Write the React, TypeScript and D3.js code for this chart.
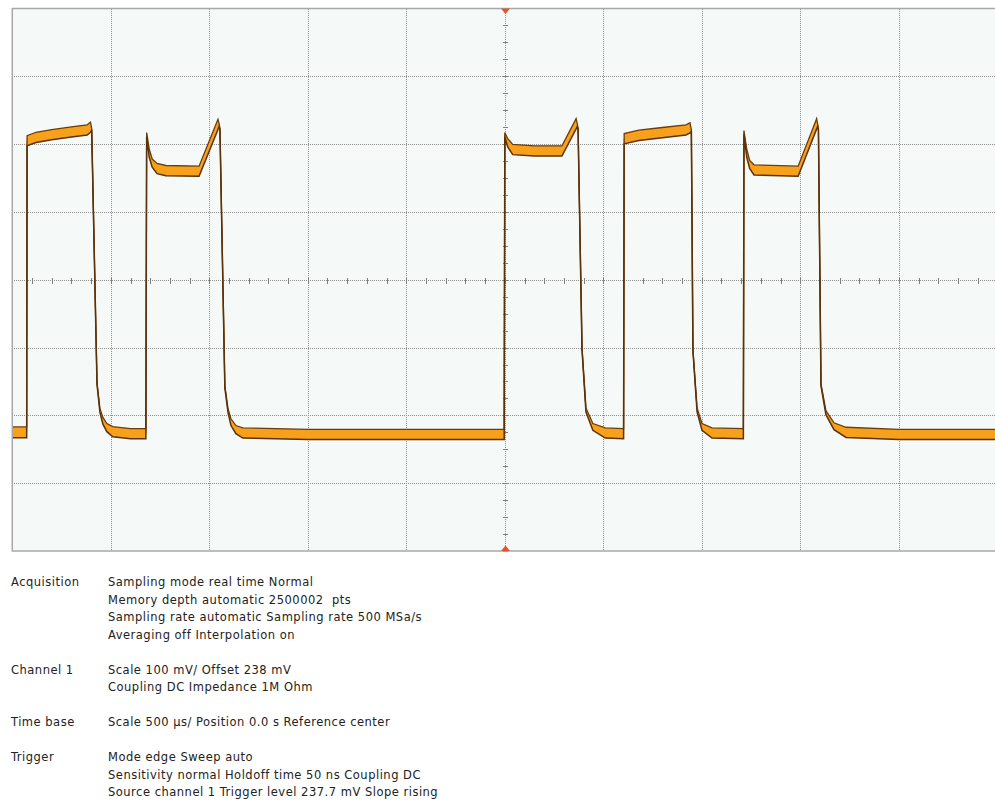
import React from "react";
import * as d3 from "d3";

// Trace: time (µs), voltage (mV), noise band half-width (mV)
const traceTime = [
  -2500, -2427, -2425, -2380, -2300, -2200, -2120, -2103,
  -2097, -2070, -2055, -2040, -2020, -1990, -1900, -1822,
  -1818, -1805, -1790, -1765, -1720, -1552, -1456, -1450,
  -1446, -1421, -1405, -1390, -1365, -1330, -1000, -500, -3,
  0, 15, 40, 150, 290, 362, 368,
  372, 392, 412, 447, 510, 603,
  606, 680, 800, 920, 940,
  947, 955, 976, 1001, 1052, 1211,
  1214, 1228, 1243, 1265, 1489, 1583, 1588,
  1592, 1605, 1630, 1671, 1732, 2000, 2500,
];
const traceMV = [
  13, 13, 443, 448, 452, 456, 459, 463,
  460, 85, 45, 30, 20, 14, 11, 11,
  452, 425, 410, 402, 399, 398, 467, 466,
  460, 80, 45, 28, 17, 12, 10, 10, 10,
  452, 440, 430, 428, 428, 468, 466,
  460, 136, 46, 21, 12, 11,
  446, 451, 455, 459, 462,
  458, 134, 46, 21, 12, 11,
  455, 425, 408, 400, 398, 468, 466,
  460, 83, 42, 22, 13, 10, 10,
];
const traceBand = [
  8, 8, 7.5, 7.5, 7.5, 7.5, 7.5, 7.5,
  1, 1.5, 3, 5, 6, 7.5, 7.5, 7.5,
  3, 6, 6, 7.5, 7.5, 7.5, 7.5, 2,
  1, 1.5, 3, 5, 6, 7.5, 7.5, 7.5, 7.5,
  3, 6, 7.5, 7.5, 7.5, 7.5, 2,
  1, 1, 3, 5, 7.5, 7.5,
  7.5, 7.5, 7.5, 7.5, 7.5,
  1, 1, 3, 5, 7.5, 7.5,
  3, 6, 6, 7.5, 7.5, 7.5, 2,
  1, 1.5, 3, 5, 7.5, 7.5, 7.5,
];

const timeDomain = [-2500, 2500];
const voltDomain = [-162, 638];
const timeGrid = [-2000, -1500, -1000, -500, 0, 500, 1000, 1500, 2000];
const voltGrid = [-62, 38, 138, 238, 338, 438, 538];

const infoLabels = ["Acquisition", "", "", "", "", "Channel 1", "", "", "Time base", "", "Trigger", "", ""];
const infoValues = [
  "Sampling mode real time Normal",
  "Memory depth automatic 2500002  pts",
  "Sampling rate automatic Sampling rate 500 MSa/s",
  "Averaging off Interpolation on",
  "",
  "Scale 100 mV/ Offset 238 mV",
  "Coupling DC Impedance 1M Ohm",
  "",
  "Scale 500 \u00b5s/ Position 0.0 s Reference center",
  "",
  "Mode edge Sweep auto",
  "Sensitivity normal Holdoff time 50 ns Coupling DC",
  "Source channel 1 Trigger level 237.7 mV Slope rising",
];

type P = { t: number; v: number; w: number };

export default function App() {
  const left = 12.3, right = 997.3, top = 8.5, bottom = 551;
  const x = d3.scaleLinear().domain(timeDomain).range([left, right]);
  const y = d3.scaleLinear().domain(voltDomain).range([bottom, top]);
  const pts: P[] = traceTime.map((t, i) => ({ t, v: traceMV[i], w: traceBand[i] }));

  const area = d3.area<P>().x((d) => x(d.t)).y0((d) => y(d.v - d.w)).y1((d) => y(d.v + d.w));
  const upper = d3.line<P>().x((d) => x(d.t)).y((d) => y(d.v + d.w));
  const lower = d3.line<P>().x((d) => x(d.t)).y((d) => y(d.v - d.w));
  const center = d3.line<P>().x((d) => x(d.t)).y((d) => y(d.v));

  const px = (v: number) => Math.round(v) + 0.5;
  const cx = px(x(0)), cy = px(y(238));
  const hTicks = d3.range(-2500, 2501, 100);
  const vTicks = d3.range(-162, 639, 25);
  const gridColor = "#8f8f8f";

  return (
    <div style={{ position: "absolute", left: 0, top: 0 }}>
      <svg width={995} height={800} style={{ display: "block", background: "#fff" }}>
        <defs>
          <clipPath id="plotClip">
            <rect x={left} y={top} width={right - left} height={bottom - top} />
          </clipPath>
        </defs>
        <rect x={left} y={top} width={right - left} height={bottom - top} fill="#f5f9f7" />
        <g stroke={gridColor} strokeWidth={1} strokeDasharray="1 1" shapeRendering="crispEdges">
          {timeGrid.map((t) => (
            <line key={"vx" + t} x1={px(x(t))} x2={px(x(t))} y1={top} y2={bottom} />
          ))}
          {voltGrid.map((v) => (
            <line key={"hy" + v} x1={left} x2={right} y1={px(y(v))} y2={px(y(v))} />
          ))}
        </g>
        <g stroke="#7f7f7f" strokeWidth={1} shapeRendering="crispEdges">
          {hTicks.map((t) => (
            <line key={"ht" + t} x1={px(x(t))} x2={px(x(t))} y1={cy - 3} y2={cy + 3} />
          ))}
          {vTicks.map((v) => (
            <line key={"vt" + v} x1={cx - 2.5} x2={cx + 2.5} y1={px(y(v))} y2={px(y(v))} />
          ))}
        </g>
        <g clipPath="url(#plotClip)">
          <path d={center(pts) || ""} fill="none" stroke="#9a6a1c" strokeWidth={1} />
          <path d={area(pts) || ""} fill="#f7a01c" />
          <path d={upper(pts) || ""} fill="none" stroke="#6a3c0e" strokeWidth={1.3} />
          <path d={lower(pts) || ""} fill="none" stroke="#5c320a" strokeWidth={1.5} />
        </g>
        <path
          d={`M${right},${top}H${left}V${bottom}H${right}`}
          fill="none"
          stroke="#a8a8a8"
          strokeWidth={1.5}
        />
        <path d={`M${cx - 4.5},${top}L${cx + 4.5},${top}L${cx},${top + 5.5}Z`} fill="#e4532a" />
        <path d={`M${cx - 4.5},${bottom}L${cx + 4.5},${bottom}L${cx},${bottom - 5.5}Z`} fill="#e4532a" />
        <g
          fontFamily="'DejaVu Sans', Verdana, sans-serif"
          fontSize={11.5}
          letterSpacing={0.5}
          fill="#222"
          style={{ whiteSpace: "pre" }}
        >
          {infoValues.map((val, i) => (
            <g key={"info" + i}>
              {infoLabels[i] && (
                <text x={11} y={586 + 17.5 * i} xmlSpace="preserve">
                  {infoLabels[i]}
                </text>
              )}
              {val && (
                <text x={108} y={586 + 17.5 * i} xmlSpace="preserve">
                  {val}
                </text>
              )}
            </g>
          ))}
        </g>
      </svg>
    </div>
  );
}
